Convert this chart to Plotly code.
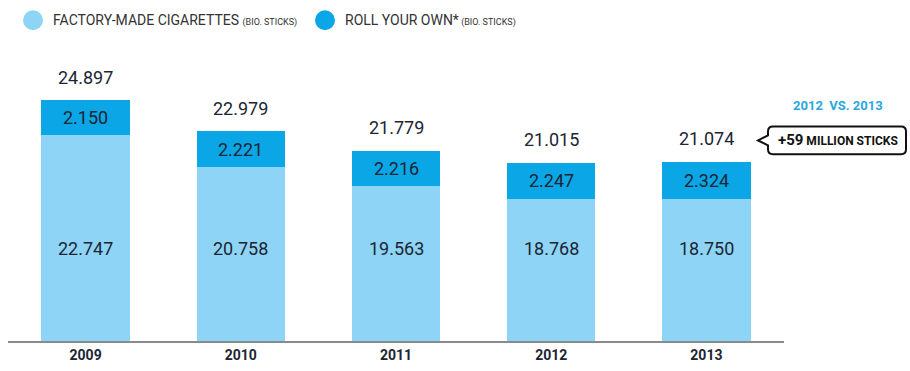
import plotly.graph_objects as go

years = ["2009", "2010", "2011", "2012", "2013"]
factory_made = [22.747, 20.758, 19.563, 18.768, 18.750]
roll_your_own = [2.150, 2.221, 2.216, 2.247, 2.324]
totals = [24.897, 22.979, 21.779, 21.015, 21.074]
fmt_fm = ["22.747", "20.758", "19.563", "18.768", "18.750"]
fmt_ryo = ["2.150", "2.221", "2.216", "2.247", "2.324"]
fmt_tot = ["24.897", "22.979", "21.779", "21.015", "21.074"]

LIGHT = "#8dd4f6"
DARK = "#0ba6e6"
TXT = "#1c2533"
FONT = "Roboto, sans-serif"

W, H = 910, 371
ML, MR, MT, MB = 8, 126, 50, 28
PW, PH = W - ML - MR, H - MT - MB


def px(x):
    return (x - ML) / PW


def py(y):
    return (H - MB - y) / PH


fig = go.Figure()
fig.add_bar(x=years, y=factory_made, marker_color=LIGHT, marker_line_width=0,
            name="FACTORY-MADE CIGARETTES")
fig.add_bar(x=years, y=roll_your_own, marker_color=DARK, marker_line_width=0,
            name="ROLL YOUR OWN*")

ann = []
for i, y in enumerate(years):
    ann.append(dict(x=i, y=totals[i], text=fmt_tot[i], showarrow=False, yshift=23,
                    font=dict(size=18, color=TXT, family=FONT)))
    ann.append(dict(x=i, y=factory_made[i] + roll_your_own[i] / 2, text=fmt_ryo[i],
                    showarrow=False, font=dict(size=18, color=TXT, family=FONT)))
    ann.append(dict(x=i, y=15.7, text=fmt_fm[i], showarrow=False,
                    font=dict(size=18, color=TXT, family=FONT)))

# legend
ann.append(dict(xref="paper", yref="paper", x=px(51), y=py(20), xanchor="left",
                yanchor="middle", showarrow=False,
                text="FACTORY-MADE CIGARETTES <span style='font-size:9px'>(BIO. STICKS)</span>",
                font=dict(size=14, color="#333333", family=FONT)))
ann.append(dict(xref="paper", yref="paper", x=px(343), y=py(20), xanchor="left",
                yanchor="middle", showarrow=False,
                text="ROLL YOUR OWN*<span style='font-size:9px'> (BIO. STICKS)</span>",
                font=dict(size=14, color="#333333", family=FONT)))
# callout
ann.append(dict(xref="paper", yref="paper", x=px(838), y=py(106), xanchor="center",
                yanchor="middle", showarrow=False, text="<b>2012  VS. 2013</b>",
                font=dict(size=13, color="#2aa7df", family=FONT)))
ann.append(dict(xref="paper", yref="paper", x=px(838), y=py(141), xanchor="center",
                yanchor="middle", showarrow=False,
                text="<b><span style='font-size:15px'>+59</span> MILLION STICKS</b>",
                font=dict(size=12, color="#111111", family=FONT)))

shapes = [
    dict(type="circle", xref="paper", yref="paper", xsizemode="pixel", ysizemode="pixel",
         xanchor=px(33), yanchor=py(20), x0=-10, x1=10, y0=-10, y1=10,
         fillcolor=LIGHT, line_width=0),
    dict(type="circle", xref="paper", yref="paper", xsizemode="pixel", ysizemode="pixel",
         xanchor=px(325), yanchor=py(20), x0=-10, x1=10, y0=-10, y1=10,
         fillcolor=DARK, line_width=0),
]
path = (f"M {px(773)},{py(127)} L {px(901)},{py(127)} "
        f"Q {px(906)},{py(127)} {px(906)},{py(132)} "
        f"L {px(906)},{py(150)} Q {px(906)},{py(155)} {px(901)},{py(155)} "
        f"L {px(773)},{py(155)} Q {px(768)},{py(155)} {px(768)},{py(150)} "
        f"L {px(768)},{py(146)} L {px(758)},{py(141)} L {px(768)},{py(136)} "
        f"L {px(768)},{py(132)} Q {px(768)},{py(127)} {px(773)},{py(127)} Z")
shapes.append(dict(type="path", xref="paper", yref="paper", path=path, layer="below",
                   line=dict(color="#111111", width=2), fillcolor="white"))

fig.update_layout(
    width=W, height=H, barmode="stack", bargap=0.43,
    margin=dict(l=ML, r=MR, t=MT, b=MB),
    plot_bgcolor="white", paper_bgcolor="white", showlegend=False,
    annotations=ann, shapes=shapes,
    xaxis=dict(type="category", range=[-0.5, 4.5], showline=True, linecolor="#8a8a8a",
               linewidth=2, ticks="", tickvals=years,
               ticktext=[f"<b>{y}</b>" for y in years],
               tickfont=dict(size=14, color=TXT, family=FONT), showgrid=False),
    yaxis=dict(range=[9.94, 28.03], visible=False, showgrid=False),
)

fig.write_html("out.html")
